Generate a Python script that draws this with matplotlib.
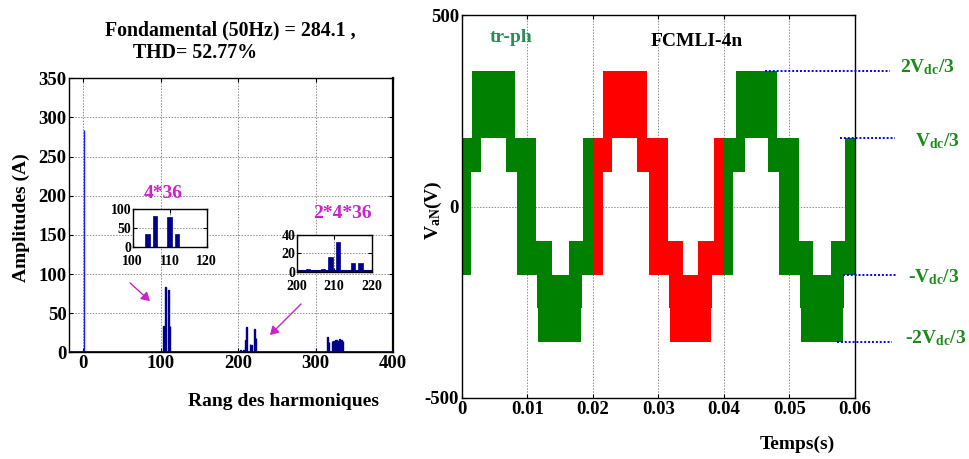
import matplotlib
matplotlib.use("Agg")
import matplotlib.pyplot as plt

plt.rcParams['font.family'] = ['Liberation Serif', 'DejaVu Serif']
plt.rcParams['font.weight'] = 'bold'
plt.rcParams['mathtext.fontset'] = 'custom'
plt.rcParams['mathtext.rm'] = 'Liberation Serif:bold'
plt.rcParams['mathtext.it'] = 'Liberation Serif:bold'
plt.rcParams['mathtext.bf'] = 'Liberation Serif:bold'
plt.rcParams['axes.unicode_minus'] = False

# ---------------- data: harmonic spectrum ----------------
harm_order = [1, 104, 106, 110, 112, 203, 207, 209, 211, 215, 217, 221, 223,
              315, 317, 321, 323, 325, 327, 329, 331, 333, 335]
harm_amp = [284.1, 33, 83, 80, 33, 2.5, 3, 16, 32, 10, 9, 30, 18,
            20, 13, 15, 14, 16, 16, 15, 17, 16, 14]
spec_xticks = [0, 100, 200, 300, 400]
spec_yticks = [0, 50, 100, 150, 200, 250, 300, 350]
inset1_xticks = [100, 110, 120]
inset1_yticks = [0, 50, 100]
inset2_xticks = [200, 210, 220]
inset2_yticks = [0, 20, 40]
title_line1 = "Fondamental (50Hz) = 284.1 ,"
title_line2 = "THD= 52.77%"

# ---------------- data: output voltage bands (t0, t1, low, high) ----------------
# period 1 (green)
p1_t0 = [0.0000, 0.0014, 0.0016, 0.0068, 0.0084, 0.0114, 0.0115, 0.0117, 0.0163, 0.0185]
p1_t1 = [0.0014, 0.0030, 0.0082, 0.0084, 0.0114, 0.0137, 0.0183, 0.0182, 0.0185, 0.0200]
p1_lo = [-178, 89, 178, 89, -178, -178, -266, -355, -178, -178]
p1_hi = [178, 178, 355, 178, 178, -89, -178, -266, -89, 178]
# period 2 (red)
p2_t0 = [0.0200, 0.0215, 0.0216, 0.0268, 0.0285, 0.0315, 0.0316, 0.0318, 0.0361, 0.0385]
p2_t1 = [0.0215, 0.0230, 0.0282, 0.0285, 0.0315, 0.0337, 0.0382, 0.0381, 0.0385, 0.0400]
p2_lo = [-178, 89, 178, 89, -178, -178, -266, -355, -178, -178]
p2_hi = [178, 178, 355, 178, 178, -89, -178, -266, -89, 178]
# period 3 (green)
p3_t0 = [0.0400, 0.0414, 0.0418, 0.0468, 0.0484, 0.0515, 0.0516, 0.0517, 0.0563, 0.0585]
p3_t1 = [0.0414, 0.0432, 0.0481, 0.0484, 0.0515, 0.0536, 0.0583, 0.0582, 0.0585, 0.0600]
p3_lo = [-178, 89, 178, 89, -178, -178, -266, -355, -178, -178]
p3_hi = [178, 178, 355, 178, 178, -89, -178, -266, -89, 178]

wave_xticks = [0, 0.01, 0.02, 0.03, 0.04, 0.05, 0.06]
wave_xticklabels = ['0', '0.01', '0.02', '0.03', '0.04', '0.05', '0.06']
wave_yticks = [-500, 0, 500]
level_values = [355, 178, -178, -355]
level_labels = [r'2V$_{\rm dc}$/3', r'V$_{\rm dc}$/3', r'-V$_{\rm dc}$/3', r'-2V$_{\rm dc}$/3']

# ---------------- figure ----------------
W, H = 969, 459
fig = plt.figure(figsize=(W / 100, H / 100), dpi=100)


def fx(px):
    return px / W


def fy(py):
    return 1 - py / H


def ax_rect(l, t, r, b):
    return [fx(l), fy(b), fx(r) - fx(l), fy(t) - fy(b)]


NAVY = '#00008b'
GRID = dict(color='#8c8c8c', linestyle=(0, (1.5, 1.5)), linewidth=0.7)
TICK_FS = 13.5


def style_axes(ax, fs):
    ax.tick_params(direction='in', top=True, right=True, length=3, width=0.8,
                   labelsize=fs, pad=2)
    for lab in ax.get_xticklabels() + ax.get_yticklabels():
        lab.set_fontweight('bold')
    for s in ax.spines.values():
        s.set_linewidth(1.0)
        s.set_color('black')


# ---- left: spectrum ----
axs = fig.add_axes(ax_rect(69.3, 78.3, 393.3, 352.3))
bar_colors = ['#1a1aff'] + [NAVY] * (len(harm_order) - 1)
axs.bar(harm_order, harm_amp, width=1.0, color=bar_colors, edgecolor=bar_colors, linewidth=1.0)
axs.axhline(0.6, color=NAVY, lw=2.0, zorder=3)
axs.set_xlim(-18, 400)
axs.set_ylim(0, 350)
axs.set_xticks(spec_xticks)
axs.set_yticks(spec_yticks)
axs.grid(True, **GRID)
axs.set_axisbelow(True)
style_axes(axs, TICK_FS)
axs.spines['right'].set_linewidth(1.6)
fig.text(fx(21), fy(218), 'Amplitudes (A)', fontsize=14, fontweight='bold',
         ha='center', va='center', rotation=90)
fig.text(fx(283), fy(401), 'Rang des harmoniques', fontsize=14, fontweight='bold',
         ha='center', va='center')
fig.text(fx(230), fy(30), title_line1, fontsize=14.3, fontweight='bold', ha='center', va='center')
fig.text(fx(133), fy(53), title_line2, fontsize=14.3, fontweight='bold', ha='left', va='center')

# inset 1
ai1 = fig.add_axes(ax_rect(132.7, 209.3, 206.7, 246.7))
ai1.bar(harm_order, harm_amp, width=1.2, color=NAVY, edgecolor=NAVY, linewidth=0.5)
ai1.set_xlim(100, 120)
ai1.set_ylim(0, 100)
ai1.set_xticks(inset1_xticks)
ai1.set_yticks(inset1_yticks)
ai1.grid(True, **GRID)
ai1.set_axisbelow(True)
style_axes(ai1, 10)
ai1.tick_params(axis='x', pad=6)
ai1.tick_params(axis='y', pad=1)

# inset 2
ai2 = fig.add_axes(ax_rect(296.7, 235.0, 371.7, 271.7))
ai2.bar(harm_order, harm_amp, width=1.2, color=NAVY, edgecolor=NAVY, linewidth=0.5)
ai2.axhline(0.8, color=NAVY, lw=1.5, zorder=3)
ai2.set_xlim(200, 220)
ai2.set_ylim(0, 40)
ai2.set_xticks(inset2_xticks)
ai2.set_yticks(inset2_yticks)
ai2.grid(True, **GRID)
ai2.set_axisbelow(True)
style_axes(ai2, 10)
ai2.tick_params(axis='x', pad=6)
ai2.tick_params(axis='y', pad=1)

MAG = '#cc22cc'
fig.text(fx(163), fy(194), '4*36', color=MAG, fontsize=14, fontweight='bold', ha='center', va='center')
fig.text(fx(342), fy(213), '2*4*36', color=MAG, fontsize=14, fontweight='bold', ha='center', va='center')
fig.add_artist(matplotlib.patches.FancyArrowPatch(
    (fx(128), fy(281)), (fx(152), fy(303)), transform=fig.transFigure,
    arrowstyle='-|>,head_length=5,head_width=3', color=MAG, lw=1.0))
fig.add_artist(matplotlib.patches.FancyArrowPatch(
    (fx(303), fy(302)), (fx(268), fy(337)), transform=fig.transFigure,
    arrowstyle='-|>,head_length=5,head_width=3', color=MAG, lw=1.0))

# ---- right: waveform ----
axw = fig.add_axes(ax_rect(461.7, 15, 855, 398))
GREEN = '#008000'
RED = '#ff0000'
for t0, t1, lo, hi, col in [(p1_t0, p1_t1, p1_lo, p1_hi, GREEN),
                            (p2_t0, p2_t1, p2_lo, p2_hi, RED),
                            (p3_t0, p3_t1, p3_lo, p3_hi, GREEN)]:
    widths = [b - a for a, b in zip(t0, t1)]
    heights = [h - l for l, h in zip(lo, hi)]
    axw.bar(t0, heights, width=widths, bottom=lo, align='edge', color=col,
            linewidth=0, zorder=2)
axw.set_xlim(0, 0.06)
axw.set_ylim(-500, 500)
axw.set_xticks(wave_xticks)
axw.set_xticklabels(wave_xticklabels)
axw.set_yticks(wave_yticks)
axw.grid(True, **GRID)
axw.set_axisbelow(True)
style_axes(axw, TICK_FS)
fig.text(fx(433), fy(210), r'V$_{\rm aN}$(V)', fontsize=14, fontweight='bold',
         ha='center', va='center', rotation=90)
fig.text(fx(797), fy(444), 'Temps(s)', fontsize=14, fontweight='bold', ha='center', va='center')
fig.text(fx(511), fy(37), 'tr-ph', color='#2e8b57', fontsize=14, fontweight='bold', ha='center', va='center')
fig.text(fx(697), fy(42), 'FCMLI-4n', color='black', fontsize=14, fontweight='bold', ha='center', va='center')

# level markers (dotted blue lines + labels)
line_px = [(765, 890), (840, 895), (843, 897), (837, 892)]
label_px = [(900, 72), (915, 146), (908, 282), (905, 343)]
LGREEN = '#1a8a1a'
for val, lab, (x0, x1), (lx, ly) in zip(level_values, level_labels, line_px, label_px):
    t0 = (x0 - 461.7) / (855 - 461.7) * 0.06
    t1 = (x1 - 461.7) / (855 - 461.7) * 0.06
    axw.plot([t0, t1], [val, val], color='blue', linestyle=(0, (1, 1)), lw=1.4,
             clip_on=False, zorder=5)
    fig.text(fx(lx), fy(ly), lab, color=LGREEN, fontsize=14, fontweight='bold',
             ha='left', va='baseline')

fig.savefig('out.png', dpi=100)
